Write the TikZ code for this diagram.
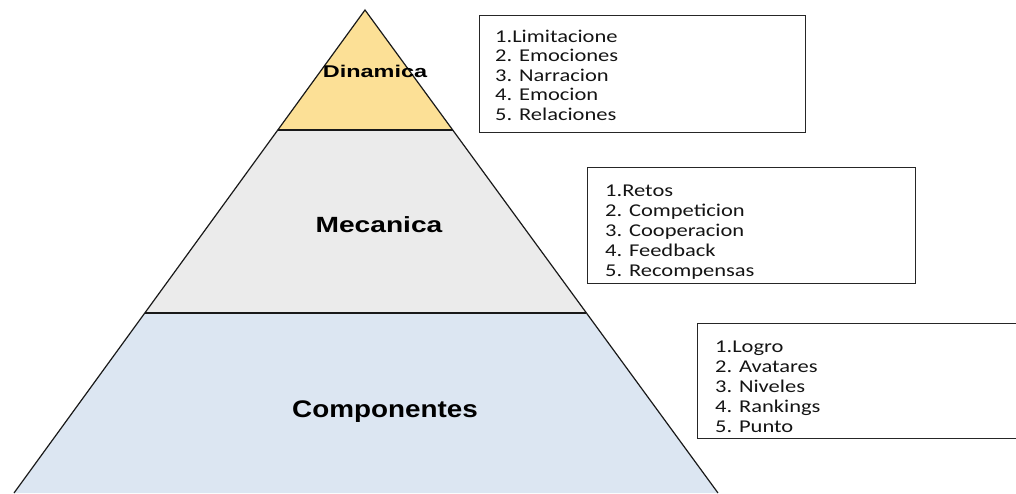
\documentclass[tikz,border=0pt]{standalone}
\usepackage{fontspec}
\setmainfont{Liberation Sans}
\newfontfamily\listfont[FakeStretch=1.25]{Carlito}
\usetikzlibrary{calc}
\definecolor{dyn}{RGB}{252,224,150}
\definecolor{mec}{RGB}{235,235,235}
\definecolor{comp}{RGB}{220,230,242}
\tikzset{
  edge/.style={draw=black!90, line width=1.2pt},
  frame/.style={draw=black!85, line width=1.3pt, anchor=north west, inner sep=0pt},
  item/.style={anchor=base west, inner sep=0pt, font=\listfont\fontsize{18}{20}\selectfont, text=black!92},
  lab/.style={anchor=base, inner sep=0pt, text=black},
}
\begin{document}
\begin{tikzpicture}[x=1pt,y=-1pt]
\clip (0,0) rectangle (1016,493);
\coordinate (apex) at (365,10);
\coordinate (bl) at (14,493);
\coordinate (br) at (718,493);
\coordinate (l1) at ($(apex)!0.2484!(bl)$);
\coordinate (r1) at ($(apex)!0.2484!(br)$);
\coordinate (l2) at ($(apex)!0.6273!(bl)$);
\coordinate (r2) at ($(apex)!0.6273!(br)$);
% fills
\fill[dyn] (apex) -- (l1) -- (r1) -- cycle;
\fill[mec] (l1) -- (l2) -- (r2) -- (r1) -- cycle;
\fill[comp] (l2) -- (bl) -- (br) -- (r2) -- cycle;
% outlines
\draw[edge] (bl) -- (apex) -- (br);
\draw[edge] (l1) -- (r1);
\draw[edge] (l2) -- (r2);
% labels
\node[lab] (dyn) at (375,77) {\scalebox{1.38}[1]{\fontsize{17}{20}\selectfont\bfseries Dinamica}};
\node[lab] (mec) at (379,232) {\scalebox{1.28}[1]{\fontsize{22}{26}\selectfont\bfseries Mecanica}};
\node[lab] (comp) at (385,417) {\scalebox{1.16}[1]{\fontsize{24}{28}\selectfont\bfseries Componentes}};
% boxes
\node[frame, minimum width=326pt, minimum height=117pt] (box1) at (479,15) {};
\node[frame, minimum width=328pt, minimum height=116pt] (box2) at (587,167) {};
\node[frame, minimum width=330pt, minimum height=115pt] (box3) at (697,323) {};
\foreach \t [count=\i] in {1.Limitacione,2. Emociones,3. Narracion,4. Emocion,5. Relaciones}
  \node[item] (a\i) at (495,{42+19.5*(\i-1)}) {\t};
\foreach \t [count=\i] in {1.Retos,2. Competicion,3. Cooperacion,4. Feedback,5. Recompensas}
  \node[item] (m\i) at (605,{196+20*(\i-1)}) {\t};
\foreach \t [count=\i] in {1.Logro,2. Avatares,3. Niveles,4. Rankings,5. Punto}
  \node[item] (c\i) at (715,{352+20*(\i-1)}) {\t};
\end{tikzpicture}
\end{document}
